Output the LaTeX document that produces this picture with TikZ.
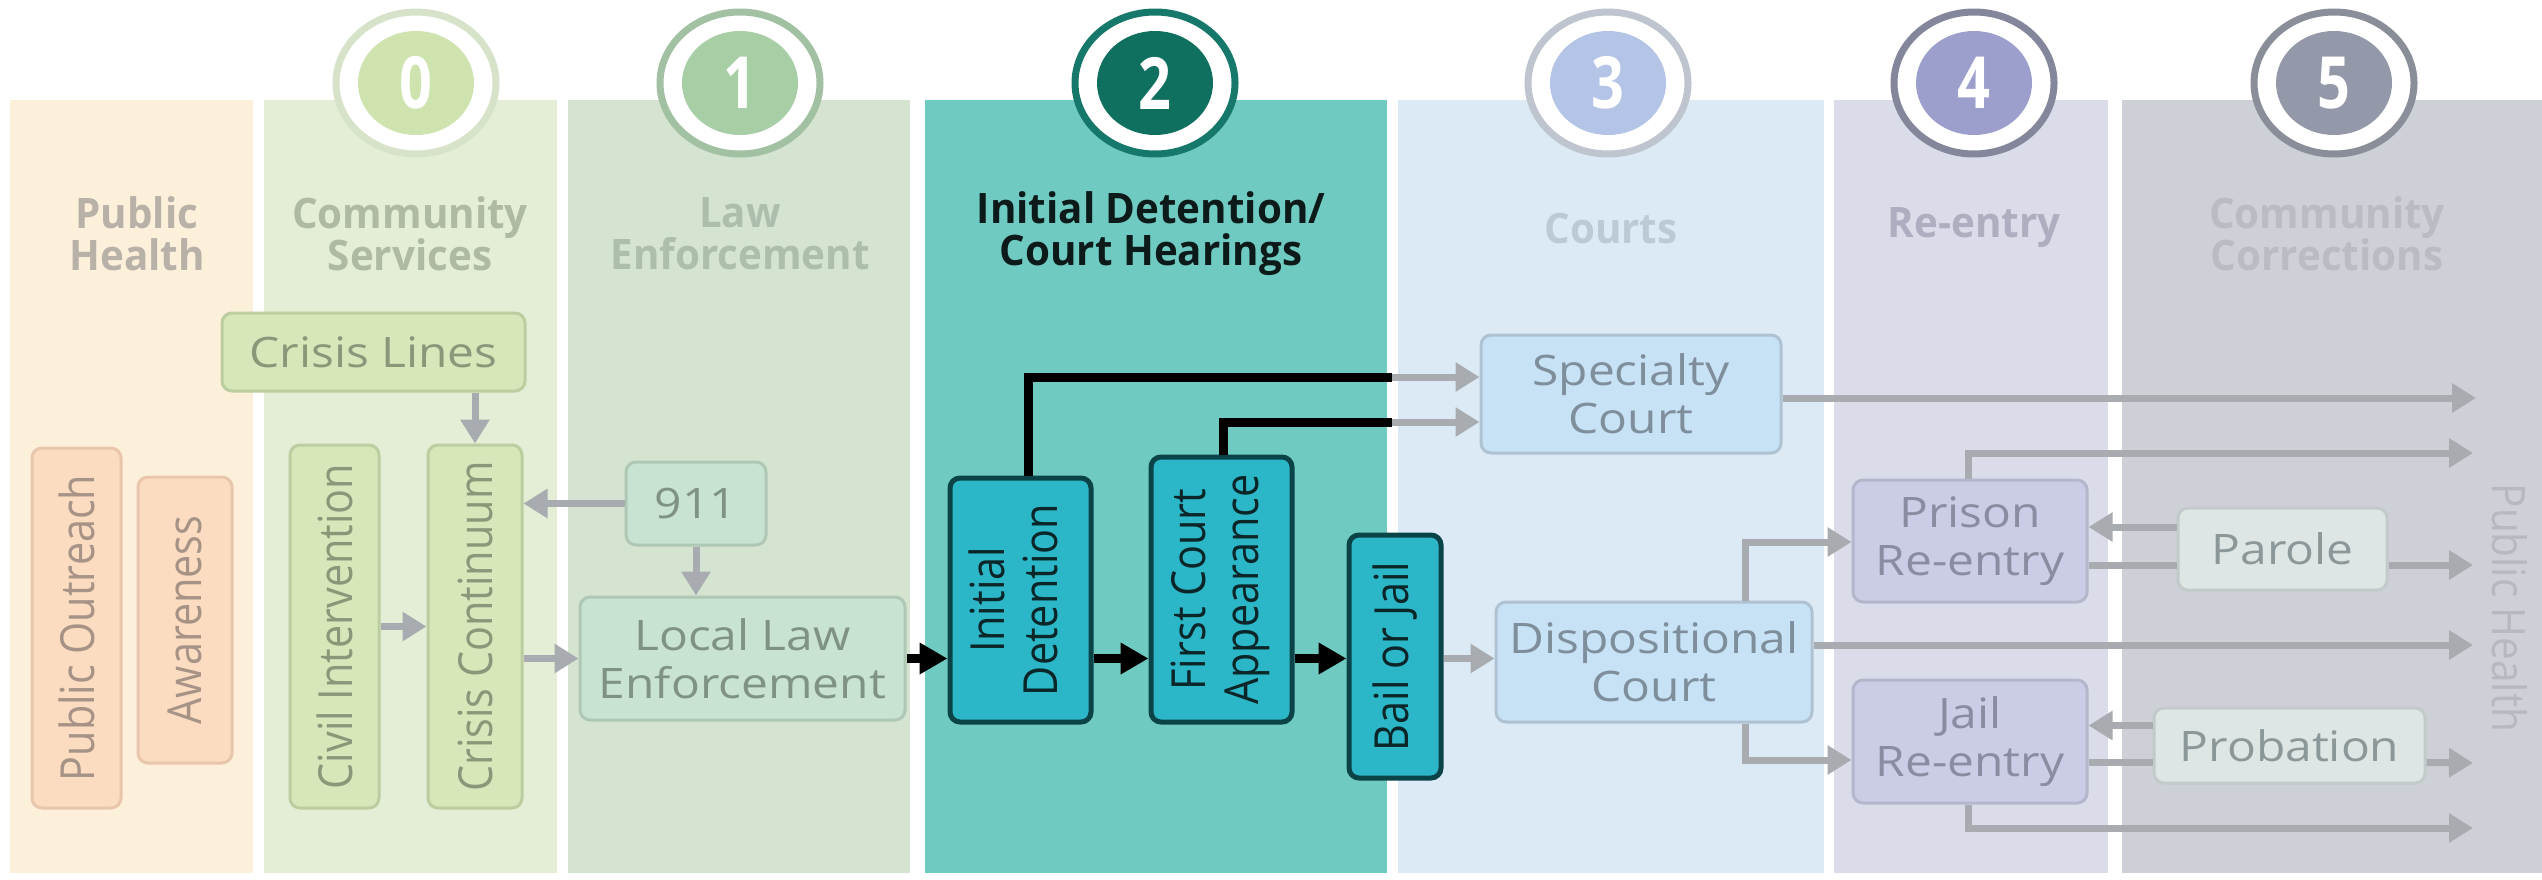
\documentclass[tikz,border=0pt]{standalone}
\usepackage{fontspec}
\setmainfont{Open Sans}
\newfontfamily\headfont{Open Sans}[FakeStretch=0.96]
\newfontfamily\boxfont{Open Sans}[FakeStretch=1.14]
\newfontfamily\rotfont{Open Sans}[FakeStretch=0.88]
\newfontfamily\numfont{Open Sans}[FakeStretch=0.8]
\usetikzlibrary{arrows.meta,shapes.geometric}
% columns
\definecolor{colPH}{HTML}{FDF0DB}
\definecolor{colCS}{HTML}{E4EED6}
\definecolor{colLE}{HTML}{D4E4D0}
\definecolor{colID}{HTML}{6FCBC2}
\definecolor{colCO}{HTML}{DCEAF5}
\definecolor{colRE}{HTML}{DADCEA}
\definecolor{colCC}{HTML}{CDD0D6}
% headings
\definecolor{hPH}{HTML}{B8B1A7}
\definecolor{hCS}{HTML}{AFBAA4}
\definecolor{hLE}{HTML}{AEBEAC}
\definecolor{hID}{HTML}{0D1A1A}
\definecolor{hCO}{HTML}{BCC9D7}
\definecolor{hRE}{HTML}{ADAFC0}
\definecolor{hCC}{HTML}{B9BCC2}
% circles
\definecolor{r0}{HTML}{D6E3C8}\definecolor{i0}{HTML}{CFE3AE}
\definecolor{r1}{HTML}{A2C1A3}\definecolor{i1}{HTML}{A8CEA6}
\definecolor{r2}{HTML}{16786A}\definecolor{i2}{HTML}{10705F}
\definecolor{r3}{HTML}{BFC5CF}\definecolor{i3}{HTML}{B4C4E7}
\definecolor{r4}{HTML}{84879B}\definecolor{i4}{HTML}{9C9FCC}
\definecolor{r5}{HTML}{898E99}\definecolor{i5}{HTML}{9399A8}
% boxes
\definecolor{fPH}{HTML}{FBDCC1}\definecolor{dPH}{HTML}{E9C6AB}\definecolor{tPH}{HTML}{A69385}
\definecolor{fCS}{HTML}{D7E7BA}\definecolor{dCS}{HTML}{BCCDA0}\definecolor{tCS}{HTML}{8A9879}
\definecolor{fLE}{HTML}{C8E3D1}\definecolor{dLE}{HTML}{AFC8B5}\definecolor{tLE}{HTML}{7F9285}
\definecolor{fID}{HTML}{2BB7C7}\definecolor{dID}{HTML}{0B4448}\definecolor{tID}{HTML}{0B2629}
\definecolor{fCO}{HTML}{C7E1F5}\definecolor{dCO}{HTML}{AFC2D2}\definecolor{tCO}{HTML}{7F8E9B}
\definecolor{fRE}{HTML}{CACDE5}\definecolor{dRE}{HTML}{B4B7CC}\definecolor{tRE}{HTML}{8A8DA1}
\definecolor{fCC}{HTML}{DDE6E5}\definecolor{dCC}{HTML}{C3CACB}\definecolor{tCC}{HTML}{8C9799}
\definecolor{arrowgray}{HTML}{A8ACB0}
\definecolor{phright}{HTML}{B6B9C0}

\begin{document}
\begin{tikzpicture}[x=1pt,y=-1pt,
  head/.style={align=center, inner sep=0pt, font={\headfont\bfseries\fontsize{42}{42}\selectfont}},
  ring/.style={ellipse, minimum width=160pt, minimum height=142pt, line width=7pt, fill=white, inner sep=0pt},
  num/.style={ellipse, minimum width=116pt, minimum height=104pt, inner sep=0pt, text=white, font={\numfont\bfseries\fontsize{72}{72}\selectfont}},
  box/.style={rounded corners=10pt, line width=3pt, inner sep=0pt, align=center, font={\boxfont\fontsize{42}{48}\selectfont}},
  rbox/.style={box, font={\rotfont\fontsize{47}{54}\selectfont}},
  tbox/.style={rounded corners=10pt, line width=5pt, inner sep=0pt, align=center, fill=fID, draw=dID, text=tID, font={\rotfont\fontsize{47}{53}\selectfont}},
  bPH/.style={fill=fPH, draw=dPH, text=tPH},
  bCS/.style={fill=fCS, draw=dCS, text=tCS},
  bLE/.style={fill=fLE, draw=dLE, text=tLE},
  bCO/.style={fill=fCO, draw=dCO, text=tCO},
  bRE/.style={fill=fRE, draw=dRE, text=tRE},
  bCC/.style={fill=fCC, draw=dCC, text=tCC},
  garrow/.style={draw=arrowgray, line width=7pt, -{Triangle[length=24pt,width=28pt]}},
  gline/.style={draw=arrowgray, line width=7pt},
  barrow/.style={draw=black, line width=9pt, -{Triangle[length=28pt,width=30pt]}},
  bline/.style={draw=black, line width=9pt}
]
\useasboundingbox (0,0) rectangle (2542,879);
\fill[white] (0,0) rectangle (2542,879);

% columns
\fill[colPH] (10,100) rectangle (253,873);
\fill[colCS] (264,100) rectangle (557,873);
\fill[colLE] (568,100) rectangle (910,873);
\fill[colID] (925,100) rectangle (1387,873);
\fill[colCO] (1398,100) rectangle (1824,873);
\fill[colRE] (1834,100) rectangle (2108,873);
\fill[colCC] (2122,100) rectangle (2542,873);

% stage circles
\node[ring, draw=r0] (c0) at (416,83) {};
\node[num, fill=i0] (s0) at (c0) {0};
\node[ring, draw=r1] (c1) at (740,83) {};
\node[num, fill=i1] (s1) at (c1) {1};
\node[ring, draw=r2] (c2) at (1155,83) {};
\node[num, fill=i2] (s2) at (c2) {2};
\node[ring, draw=r3] (c3) at (1608,83) {};
\node[num, fill=i3] (s3) at (c3) {3};
\node[ring, draw=r4] (c4) at (1974,83) {};
\node[num, fill=i4] (s4) at (c4) {4};
\node[ring, draw=r5] (c5) at (2334,83) {};
\node[num, fill=i5] (s5) at (c5) {5};

% headings
\node[head, text=hPH] (hdPH) at (137,234) {Public\\Health};
\node[head, text=hCS] (hdCS) at (410,234) {Community\\Services};
\node[head, text=hLE] (hdLE) at (740,234) {Law\\Enforcement};
\node[head, text=hID] (hdID) at (1151,234) {Initial Detention/\\Court Hearings};
\node[head, text=hCO] (hdCO) at (1611,228) {Courts};
\node[head, text=hRE] (hdRE) at (1974,228) {Re-entry};
\node[head, text=hCC] (hdCC) at (2327,234) {Community\\Corrections};

% boxes
\node[rbox, bPH, minimum width=89pt, minimum height=360pt] (pubout) at (76.5,628) {\rotatebox{90}{Public Outreach}};
\node[rbox, bPH, minimum width=94pt, minimum height=286pt] (aware) at (185,620) {\rotatebox{90}{Awareness}};
\node[box, bCS, minimum width=303pt, minimum height=78pt] (crisislines) at (373.5,352) {Crisis Lines};
\node[rbox, bCS, minimum width=89pt, minimum height=363pt] (civil) at (334.5,626.5) {\rotatebox{90}{Civil Intervention}};
\node[rbox, bCS, minimum width=94pt, minimum height=363pt] (crisiscont) at (475,626.5) {\rotatebox{90}{Crisis Continuum}};
\node[box, bLE, minimum width=140pt, minimum height=83pt] (n911) at (696,503.5) {911};
\node[box, bLE, minimum width=325pt, minimum height=123pt] (locallaw) at (742.5,658.5) {Local Law\\Enforcement};
\node[tbox, minimum width=141pt, minimum height=244pt] (initdet) at (1020.5,600) {\rotatebox{90}{\begin{tabular}{@{}c@{}}Initial\\Detention\end{tabular}}};
\node[tbox, minimum width=141pt, minimum height=265pt] (firstcourt) at (1221.5,589.5) {\rotatebox{90}{\begin{tabular}{@{}c@{}}First Court\\Appearance\end{tabular}}};
\node[tbox, minimum width=92pt, minimum height=243pt] (bailjail) at (1395,656.5) {\rotatebox{90}{Bail or Jail}};
\node[box, bCO, minimum width=300pt, minimum height=118pt] (specialty) at (1631,394) {Specialty\\Court};
\node[box, bCO, minimum width=316pt, minimum height=120pt] (dispo) at (1654,662) {Dispositional\\Court};
\node[box, bRE, minimum width=234pt, minimum height=122pt] (prison) at (1970,541) {Prison\\Re-entry};
\node[box, bRE, minimum width=234pt, minimum height=123pt] (jail) at (1970,741.5) {Jail\\Re-entry};
\node[box, bCC, minimum width=209pt, minimum height=82pt] (parole) at (2282.5,549) {Parole};
\node[box, bCC, minimum width=271pt, minimum height=75pt] (probation) at (2289.5,745.5) {Probation};

\node[rotate=-90, inner sep=0pt, text=phright, font={\rotfont\fontsize{46}{46}\selectfont}] (pubhealth) at (2510,608) {Public Health};

% free ends and bends
\coordinate (kSp1) at (1392,377);
\coordinate (kSp2) at (1392,422);
\coordinate (eSp) at (2476,398);
\coordinate (ePr) at (2473,453);
\coordinate (ePa) at (2473,565);
\coordinate (eDi) at (2473,645);
\coordinate (ePb) at (2473,763);
\coordinate (eJa) at (2473,828);
\coordinate (kDiU) at (1745,542);
\coordinate (kDiD) at (1745,760);

% connectors
\draw[garrow] (crisislines.south -| crisiscont.north) -- (crisiscont.north);
\draw[garrow] (civil.east) -- (civil.east -| crisiscont.west);
\draw[garrow] (n911.west) -- (n911.west -| crisiscont.east);
\draw[garrow] (n911.south) -- (locallaw.north -| n911.south);
\draw[garrow] (crisiscont.east |- locallaw.west) -- (locallaw.west);
\draw[barrow] (locallaw.east) -- (locallaw.east -| initdet.west);
\draw[barrow] (initdet.east |- locallaw.east) -- (firstcourt.west |- locallaw.east);
\draw[barrow] (firstcourt.east |- locallaw.east) -- (bailjail.west |- locallaw.east);
\draw[garrow] (bailjail.east |- locallaw.east) -- (dispo.west |- locallaw.east);
\draw[bline] ([xshift=8pt]initdet.north) |- (kSp1);
\draw[garrow] (kSp1) -- (kSp1 -| specialty.west);
\draw[bline] ([xshift=2pt]firstcourt.north) |- (kSp2);
\draw[garrow] (kSp2) -- (kSp2 -| specialty.west);
\draw[garrow] (specialty.east |- eSp) -- (eSp);
\draw[garrow] ([xshift=-2pt]prison.north) |- (ePr);
\draw[garrow] ([yshift=22pt]parole.west) -- ([yshift=22pt]parole.west -| prison.east);
\draw[gline] ([yshift=-16pt]parole.west -| prison.east) -- ([yshift=-16pt]parole.west);
\draw[garrow] ([yshift=-16pt]parole.east) -- (ePa);
\draw[garrow] (dispo.north -| kDiU) |- (prison.west |- kDiU);
\draw[garrow] (dispo.east |- eDi) -- (eDi);
\draw[garrow] (dispo.south -| kDiD) |- (jail.west |- kDiD);
\draw[garrow] ([yshift=20pt]probation.west) -- ([yshift=20pt]probation.west -| jail.east);
\draw[gline] ([yshift=-17pt]probation.west -| jail.east) -- ([yshift=-17pt]probation.west);
\draw[garrow] ([yshift=-17pt]probation.east) -- (ePb);
\draw[garrow] ([xshift=-2pt]jail.south) |- (eJa);
\end{tikzpicture}
\end{document}
